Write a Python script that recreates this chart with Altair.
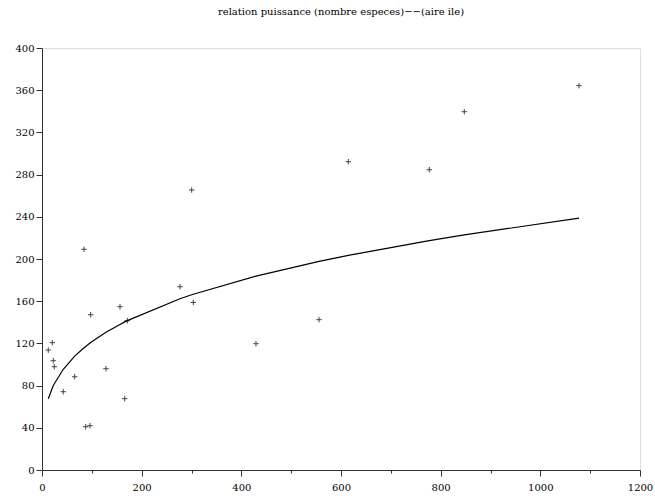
import altair as alt
import pandas as pd

# Island area vs. number of species
aire = [12.6, 20.7, 22.7, 24.7, 42.7, 65.6, 84.3, 87.7, 96.3, 97.7, 128.4, 156.5,
        166.0, 171.2, 276.9, 300.4, 303.6, 429.4, 555.9, 614.7, 777.2, 847.4, 1077.6]
especes = [113.7, 120.7, 103.6, 97.9, 74.2, 88.4, 209.2, 41.0, 42.0, 147.2, 96.0, 154.8,
           67.6, 141.5, 173.7, 265.4, 158.8, 119.7, 142.5, 292.2, 284.6, 339.6, 364.3]
# Power-law curve evaluated at each island area
courbe = [67.5, 77.7, 79.8, 81.7, 95.5, 107.9, 115.8, 117.1, 120.3, 120.8, 130.5, 138.0,
          140.4, 141.6, 162.3, 166.1, 166.6, 183.8, 197.8, 203.5, 217.5, 222.9, 238.7]

df = pd.DataFrame({"aire": aire, "especes": especes, "courbe": courbe})

FONT = "DejaVu Serif"

x_scale = alt.Scale(domain=[0, 1200], nice=False, zero=False)
y_scale = alt.Scale(domain=[0, 400], nice=False, zero=False)

x_axis = alt.Axis(
    title=None, values=list(range(0, 1201, 100)), format="d",
    labelExpr="datum.value % 200 === 0 ? datum.label : ''",
    tickSize={"condition": {"test": "datum.value % 200 === 0", "value": 6}, "value": 3},
    grid=False, labelFont=FONT, labelFontSize=10, labelColor="#000",
    domainColor="#333", tickColor="#333", labelPadding=6, labelFlush=False,
)
y_axis = alt.Axis(
    title=None, values=list(range(0, 401, 20)), format="d",
    labelExpr="datum.value % 40 === 0 ? datum.label : ''",
    tickSize={"condition": {"test": "datum.value % 40 === 0", "value": 6}, "value": 3},
    grid=False, labelFont=FONT, labelFontSize=10, labelColor="#000",
    domainColor="#333", tickColor="#333", labelPadding=2, labelFlush=False,
)

points = alt.Chart(df).mark_point(
    shape="M-1,0L1,0M0,-1L0,1", filled=False, size=30,
    stroke="#444", strokeWidth=1, opacity=1,
).encode(
    x=alt.X("aire:Q", scale=x_scale, axis=x_axis),
    y=alt.Y("especes:Q", scale=y_scale, axis=y_axis),
)

line = alt.Chart(df).mark_line(color="#000", strokeWidth=1.2).encode(
    x=alt.X("aire:Q", scale=x_scale),
    y=alt.Y("courbe:Q", scale=y_scale),
    order="aire:Q",
)

chart = alt.layer(points, line).properties(
    width=598, height=422,
    title=alt.TitleParams(
        "relation puissance (nombre especes)\u2212\u2212(aire ile)",
        font=FONT, fontSize=10, fontWeight="normal", color="#000",
        anchor="middle", offset=26,
    ),
    autosize=alt.AutoSizeParams(type="none"),
    padding={"left": 42, "top": 48, "right": 15, "bottom": 30},
).configure_view(stroke="#333", strokeWidth=1).configure(background="white")

chart.save("out.html", embed_options={"renderer": "svg", "actions": False})
